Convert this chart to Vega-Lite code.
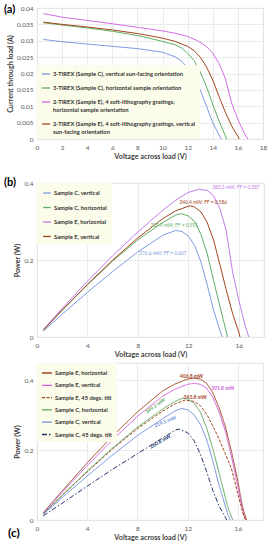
{
  "$schema": "https://vega.github.io/schema/vega-lite/v6.json",
  "padding": {"left": 3, "top": 3, "right": 2, "bottom": 2},
  "spacing": 3,
  "resolve": {"scale": {"color": "independent", "strokeDash": "independent", "x": "independent", "y": "independent"}, "legend": {"color": "independent", "strokeDash": "independent"}},
  "config": {
    "font": "Lato",
    "view": {"stroke": "#d9d9d9", "strokeWidth": 0.8},
    "axis": {"gridColor": "#e2e2e2", "gridWidth": 0.7, "domain": false, "ticks": false, "labelFontSize": 6.5, "labelColor": "#595959", "titleFontSize": 7.2, "titleFontWeight": "bold", "titleColor": "#404040", "labelFlush": false},
    "axisX": {"labelPadding": 5, "titlePadding": 2},
    "axisY": {"labelPadding": 4, "titlePadding": 2},
    "legend": {"symbolType": "stroke", "symbolStrokeWidth": 1.3, "labelFontWeight": "bold", "labelColor": "#333333", "fillColor": "#FCFCEA", "labelOffset": 2, "labelFontSize": 5.8}
  },
  "datasets": {
    "a": [
      {"s": "CV", "V": 0.5, "I": 0.0304}, {"s": "CV", "V": 2, "I": 0.0297}, {"s": "CV", "V": 4, "I": 0.029}, {"s": "CV", "V": 6, "I": 0.0283}, {"s": "CV", "V": 8, "I": 0.0276}, {"s": "CV", "V": 10, "I": 0.0265}, {"s": "CV", "V": 11, "I": 0.0251}, {"s": "CV", "V": 11.5, "I": 0.0238}, {"s": "CV", "V": 12, "I": 0.0218}, {"s": "CV", "V": 12.5, "I": 0.019}, {"s": "CV", "V": 13, "I": 0.015}, {"s": "CV", "V": 13.5, "I": 0.01}, {"s": "CV", "V": 14, "I": 0.005}, {"s": "CV", "V": 14.5, "I": 0.0012}, {"s": "CV", "V": 14.7, "I": 0},
      {"s": "CH", "V": 0.5, "I": 0.0355}, {"s": "CH", "V": 2, "I": 0.0348}, {"s": "CH", "V": 4, "I": 0.0339}, {"s": "CH", "V": 6, "I": 0.0329}, {"s": "CH", "V": 8, "I": 0.0316}, {"s": "CH", "V": 10, "I": 0.0298}, {"s": "CH", "V": 11, "I": 0.0288}, {"s": "CH", "V": 11.5, "I": 0.0278}, {"s": "CH", "V": 12, "I": 0.0262}, {"s": "CH", "V": 12.5, "I": 0.024}, {"s": "CH", "V": 13, "I": 0.0205}, {"s": "CH", "V": 13.5, "I": 0.016}, {"s": "CH", "V": 14, "I": 0.0105}, {"s": "CH", "V": 14.5, "I": 0.0055}, {"s": "CH", "V": 15, "I": 0.001}, {"s": "CH", "V": 15.1, "I": 0},
      {"s": "EH", "V": 0.5, "I": 0.0383}, {"s": "EH", "V": 2, "I": 0.0372}, {"s": "EH", "V": 4, "I": 0.0362}, {"s": "EH", "V": 6, "I": 0.0352}, {"s": "EH", "V": 8, "I": 0.0341}, {"s": "EH", "V": 10, "I": 0.033}, {"s": "EH", "V": 11, "I": 0.0323}, {"s": "EH", "V": 12, "I": 0.0313}, {"s": "EH", "V": 12.8, "I": 0.03}, {"s": "EH", "V": 13.5, "I": 0.0282}, {"s": "EH", "V": 14, "I": 0.0262}, {"s": "EH", "V": 14.5, "I": 0.023}, {"s": "EH", "V": 15, "I": 0.0185}, {"s": "EH", "V": 15.5, "I": 0.011}, {"s": "EH", "V": 16, "I": 0.006}, {"s": "EH", "V": 16.5, "I": 0.0018}, {"s": "EH", "V": 16.8, "I": 0},
      {"s": "EV", "V": 0.5, "I": 0.0357}, {"s": "EV", "V": 2, "I": 0.035}, {"s": "EV", "V": 4, "I": 0.0342}, {"s": "EV", "V": 6, "I": 0.0333}, {"s": "EV", "V": 8, "I": 0.0322}, {"s": "EV", "V": 10, "I": 0.0308}, {"s": "EV", "V": 11, "I": 0.0298}, {"s": "EV", "V": 12, "I": 0.0283}, {"s": "EV", "V": 12.5, "I": 0.027}, {"s": "EV", "V": 13, "I": 0.025}, {"s": "EV", "V": 13.5, "I": 0.022}, {"s": "EV", "V": 14, "I": 0.018}, {"s": "EV", "V": 14.5, "I": 0.013}, {"s": "EV", "V": 15, "I": 0.0082}, {"s": "EV", "V": 15.5, "I": 0.004}, {"s": "EV", "V": 16, "I": 0.0008}, {"s": "EV", "V": 16.1, "I": 0}
    ],
    "b": [
      {"s": "Sample C, vertical", "V": 0.5, "P": 0.0152}, {"s": "Sample C, vertical", "V": 2, "P": 0.0594}, {"s": "Sample C, vertical", "V": 4, "P": 0.116}, {"s": "Sample C, vertical", "V": 6, "P": 0.17}, {"s": "Sample C, vertical", "V": 8, "P": 0.221}, {"s": "Sample C, vertical", "V": 10, "P": 0.265}, {"s": "Sample C, vertical", "V": 11, "P": 0.2766}, {"s": "Sample C, vertical", "V": 11.5, "P": 0.274}, {"s": "Sample C, vertical", "V": 12, "P": 0.262}, {"s": "Sample C, vertical", "V": 12.5, "P": 0.2375}, {"s": "Sample C, vertical", "V": 13, "P": 0.195}, {"s": "Sample C, vertical", "V": 13.5, "P": 0.135}, {"s": "Sample C, vertical", "V": 14, "P": 0.07}, {"s": "Sample C, vertical", "V": 14.5, "P": 0.0174}, {"s": "Sample C, vertical", "V": 14.7, "P": 0},
      {"s": "Sample C, horizontal", "V": 0.5, "P": 0.0178}, {"s": "Sample C, horizontal", "V": 2, "P": 0.0696}, {"s": "Sample C, horizontal", "V": 4, "P": 0.1356}, {"s": "Sample C, horizontal", "V": 6, "P": 0.1974}, {"s": "Sample C, horizontal", "V": 8, "P": 0.2528}, {"s": "Sample C, horizontal", "V": 10, "P": 0.298}, {"s": "Sample C, horizontal", "V": 11, "P": 0.3168}, {"s": "Sample C, horizontal", "V": 11.3, "P": 0.3199}, {"s": "Sample C, horizontal", "V": 11.5, "P": 0.3197}, {"s": "Sample C, horizontal", "V": 12, "P": 0.3144}, {"s": "Sample C, horizontal", "V": 12.5, "P": 0.3}, {"s": "Sample C, horizontal", "V": 13, "P": 0.2665}, {"s": "Sample C, horizontal", "V": 13.5, "P": 0.216}, {"s": "Sample C, horizontal", "V": 14, "P": 0.147}, {"s": "Sample C, horizontal", "V": 14.5, "P": 0.08}, {"s": "Sample C, horizontal", "V": 15, "P": 0.015}, {"s": "Sample C, horizontal", "V": 15.1, "P": 0},
      {"s": "Sample E, horizontal", "V": 0.5, "P": 0.0192}, {"s": "Sample E, horizontal", "V": 2, "P": 0.0744}, {"s": "Sample E, horizontal", "V": 4, "P": 0.1448}, {"s": "Sample E, horizontal", "V": 6, "P": 0.2112}, {"s": "Sample E, horizontal", "V": 8, "P": 0.2728}, {"s": "Sample E, horizontal", "V": 10, "P": 0.33}, {"s": "Sample E, horizontal", "V": 11, "P": 0.3553}, {"s": "Sample E, horizontal", "V": 12, "P": 0.3756}, {"s": "Sample E, horizontal", "V": 12.8, "P": 0.3833}, {"s": "Sample E, horizontal", "V": 13.5, "P": 0.3807}, {"s": "Sample E, horizontal", "V": 14, "P": 0.3668}, {"s": "Sample E, horizontal", "V": 14.5, "P": 0.3335}, {"s": "Sample E, horizontal", "V": 15, "P": 0.2775}, {"s": "Sample E, horizontal", "V": 15.5, "P": 0.1705}, {"s": "Sample E, horizontal", "V": 16, "P": 0.096}, {"s": "Sample E, horizontal", "V": 16.5, "P": 0.03}, {"s": "Sample E, horizontal", "V": 16.8, "P": 0},
      {"s": "Sample E, vertical", "V": 0.5, "P": 0.0179}, {"s": "Sample E, vertical", "V": 2, "P": 0.07}, {"s": "Sample E, vertical", "V": 4, "P": 0.1368}, {"s": "Sample E, vertical", "V": 6, "P": 0.1998}, {"s": "Sample E, vertical", "V": 8, "P": 0.2576}, {"s": "Sample E, vertical", "V": 10, "P": 0.308}, {"s": "Sample E, vertical", "V": 11, "P": 0.3278}, {"s": "Sample E, vertical", "V": 12, "P": 0.3396}, {"s": "Sample E, vertical", "V": 12.2, "P": 0.3404}, {"s": "Sample E, vertical", "V": 12.5, "P": 0.3375}, {"s": "Sample E, vertical", "V": 13, "P": 0.325}, {"s": "Sample E, vertical", "V": 13.5, "P": 0.297}, {"s": "Sample E, vertical", "V": 14, "P": 0.252}, {"s": "Sample E, vertical", "V": 14.5, "P": 0.1885}, {"s": "Sample E, vertical", "V": 15, "P": 0.123}, {"s": "Sample E, vertical", "V": 15.5, "P": 0.062}, {"s": "Sample E, vertical", "V": 16, "P": 0.0128}, {"s": "Sample E, vertical", "V": 16.1, "P": 0}
    ],
    "bl": [
      {"s": "Sample E, horizontal", "V": 13.9, "P": 0.388, "t": "383.3 mW; FF = 0.587"},
      {"s": "Sample E, vertical", "V": 11.3, "P": 0.347, "t": "340.4 mW; FF = 0.586"},
      {"s": "Sample C, horizontal", "V": 9.0, "P": 0.288, "t": "319.9 mW; FF = 0.591"},
      {"s": "Sample C, vertical", "V": 8.1, "P": 0.216, "t": "276.6 mW; FF = 0.607"}
    ],
    "c": [
      {"s": "Sample E, horizontal", "V": 0.5, "P": 0.021}, {"s": "Sample E, horizontal", "V": 2, "P": 0.083}, {"s": "Sample E, horizontal", "V": 4, "P": 0.164}, {"s": "Sample E, horizontal", "V": 6, "P": 0.24}, {"s": "Sample E, horizontal", "V": 8, "P": 0.31}, {"s": "Sample E, horizontal", "V": 10, "P": 0.37}, {"s": "Sample E, horizontal", "V": 11, "P": 0.39}, {"s": "Sample E, horizontal", "V": 12, "P": 0.404}, {"s": "Sample E, horizontal", "V": 12.5, "P": 0.4068}, {"s": "Sample E, horizontal", "V": 13, "P": 0.404}, {"s": "Sample E, horizontal", "V": 13.5, "P": 0.392}, {"s": "Sample E, horizontal", "V": 14, "P": 0.365}, {"s": "Sample E, horizontal", "V": 14.5, "P": 0.322}, {"s": "Sample E, horizontal", "V": 15, "P": 0.268}, {"s": "Sample E, horizontal", "V": 15.5, "P": 0.195}, {"s": "Sample E, horizontal", "V": 16, "P": 0.11}, {"s": "Sample E, horizontal", "V": 16.3, "P": 0.05}, {"s": "Sample E, horizontal", "V": 16.5, "P": 0.02}, {"s": "Sample E, horizontal", "V": 16.7, "P": 0},
      {"s": "Sample E, vertical", "V": 0.5, "P": 0.02}, {"s": "Sample E, vertical", "V": 2, "P": 0.079}, {"s": "Sample E, vertical", "V": 4, "P": 0.156}, {"s": "Sample E, vertical", "V": 6, "P": 0.229}, {"s": "Sample E, vertical", "V": 8, "P": 0.297}, {"s": "Sample E, vertical", "V": 10, "P": 0.355}, {"s": "Sample E, vertical", "V": 11, "P": 0.375}, {"s": "Sample E, vertical", "V": 12, "P": 0.389}, {"s": "Sample E, vertical", "V": 12.5, "P": 0.3918}, {"s": "Sample E, vertical", "V": 13, "P": 0.389}, {"s": "Sample E, vertical", "V": 13.5, "P": 0.378}, {"s": "Sample E, vertical", "V": 14, "P": 0.352}, {"s": "Sample E, vertical", "V": 14.5, "P": 0.31}, {"s": "Sample E, vertical", "V": 15, "P": 0.255}, {"s": "Sample E, vertical", "V": 15.5, "P": 0.18}, {"s": "Sample E, vertical", "V": 16, "P": 0.095}, {"s": "Sample E, vertical", "V": 16.3, "P": 0.04}, {"s": "Sample E, vertical", "V": 16.5, "P": 0.012}, {"s": "Sample E, vertical", "V": 16.6, "P": 0},
      {"s": "Sample E, 45 degs. tilt", "V": 0.5, "P": 0.018}, {"s": "Sample E, 45 degs. tilt", "V": 2, "P": 0.07}, {"s": "Sample E, 45 degs. tilt", "V": 4, "P": 0.138}, {"s": "Sample E, 45 degs. tilt", "V": 6, "P": 0.203}, {"s": "Sample E, 45 degs. tilt", "V": 8, "P": 0.262}, {"s": "Sample E, 45 degs. tilt", "V": 10, "P": 0.312}, {"s": "Sample E, 45 degs. tilt", "V": 11, "P": 0.333}, {"s": "Sample E, 45 degs. tilt", "V": 11.8, "P": 0.3438}, {"s": "Sample E, 45 degs. tilt", "V": 12.5, "P": 0.34}, {"s": "Sample E, 45 degs. tilt", "V": 13, "P": 0.328}, {"s": "Sample E, 45 degs. tilt", "V": 13.5, "P": 0.304}, {"s": "Sample E, 45 degs. tilt", "V": 14, "P": 0.27}, {"s": "Sample E, 45 degs. tilt", "V": 14.5, "P": 0.232}, {"s": "Sample E, 45 degs. tilt", "V": 15, "P": 0.19}, {"s": "Sample E, 45 degs. tilt", "V": 15.5, "P": 0.146}, {"s": "Sample E, 45 degs. tilt", "V": 16, "P": 0.074}, {"s": "Sample E, 45 degs. tilt", "V": 16.4, "P": 0.02}, {"s": "Sample E, 45 degs. tilt", "V": 16.6, "P": 0},
      {"s": "Sample C, horizontal", "V": 0.5, "P": 0.018}, {"s": "Sample C, horizontal", "V": 2, "P": 0.071}, {"s": "Sample C, horizontal", "V": 4, "P": 0.14}, {"s": "Sample C, horizontal", "V": 6, "P": 0.206}, {"s": "Sample C, horizontal", "V": 8, "P": 0.266}, {"s": "Sample C, horizontal", "V": 10, "P": 0.318}, {"s": "Sample C, horizontal", "V": 11, "P": 0.34}, {"s": "Sample C, horizontal", "V": 11.6, "P": 0.3493}, {"s": "Sample C, horizontal", "V": 12, "P": 0.347}, {"s": "Sample C, horizontal", "V": 12.5, "P": 0.335}, {"s": "Sample C, horizontal", "V": 13, "P": 0.31}, {"s": "Sample C, horizontal", "V": 13.5, "P": 0.265}, {"s": "Sample C, horizontal", "V": 14, "P": 0.205}, {"s": "Sample C, horizontal", "V": 14.5, "P": 0.135}, {"s": "Sample C, horizontal", "V": 15, "P": 0.065}, {"s": "Sample C, horizontal", "V": 15.3, "P": 0.025}, {"s": "Sample C, horizontal", "V": 15.6, "P": 0},
      {"s": "Sample C, vertical", "V": 0.5, "P": 0.016}, {"s": "Sample C, vertical", "V": 2, "P": 0.064}, {"s": "Sample C, vertical", "V": 4, "P": 0.126}, {"s": "Sample C, vertical", "V": 6, "P": 0.186}, {"s": "Sample C, vertical", "V": 8, "P": 0.242}, {"s": "Sample C, vertical", "V": 10, "P": 0.29}, {"s": "Sample C, vertical", "V": 11, "P": 0.313}, {"s": "Sample C, vertical", "V": 11.5, "P": 0.3195}, {"s": "Sample C, vertical", "V": 12, "P": 0.316}, {"s": "Sample C, vertical", "V": 12.5, "P": 0.302}, {"s": "Sample C, vertical", "V": 13, "P": 0.275}, {"s": "Sample C, vertical", "V": 13.5, "P": 0.232}, {"s": "Sample C, vertical", "V": 14, "P": 0.17}, {"s": "Sample C, vertical", "V": 14.5, "P": 0.1}, {"s": "Sample C, vertical", "V": 15, "P": 0.04}, {"s": "Sample C, vertical", "V": 15.2, "P": 0.015}, {"s": "Sample C, vertical", "V": 15.4, "P": 0},
      {"s": "Sample C, 45 degs. tilt", "V": 0.5, "P": 0.012}, {"s": "Sample C, 45 degs. tilt", "V": 2, "P": 0.048}, {"s": "Sample C, 45 degs. tilt", "V": 4, "P": 0.097}, {"s": "Sample C, 45 degs. tilt", "V": 6, "P": 0.145}, {"s": "Sample C, 45 degs. tilt", "V": 8, "P": 0.19}, {"s": "Sample C, 45 degs. tilt", "V": 10, "P": 0.235}, {"s": "Sample C, 45 degs. tilt", "V": 11, "P": 0.257}, {"s": "Sample C, 45 degs. tilt", "V": 11.3, "P": 0.2608}, {"s": "Sample C, 45 degs. tilt", "V": 12, "P": 0.25}, {"s": "Sample C, 45 degs. tilt", "V": 12.5, "P": 0.228}, {"s": "Sample C, 45 degs. tilt", "V": 13, "P": 0.19}, {"s": "Sample C, 45 degs. tilt", "V": 13.5, "P": 0.14}, {"s": "Sample C, 45 degs. tilt", "V": 14, "P": 0.085}, {"s": "Sample C, 45 degs. tilt", "V": 14.5, "P": 0.04}, {"s": "Sample C, 45 degs. tilt", "V": 15, "P": 0.008}, {"s": "Sample C, 45 degs. tilt", "V": 15.1, "P": 0}
    ],
    "cl": [
      {"s": "Sample E, horizontal", "V": 12.3, "P": 0.414, "t": "406.8 mW", "ang": 0},
      {"s": "Sample E, vertical", "V": 14.8, "P": 0.378, "t": "391.8 mW", "ang": 0},
      {"s": "Sample E, 45 degs. tilt", "V": 12.6, "P": 0.352, "t": "343.8 mW", "ang": 0},
      {"s": "Sample C, horizontal", "V": 9.4, "P": 0.328, "t": "349.3 mW", "ang": -35},
      {"s": "Sample C, vertical", "V": 10.2, "P": 0.283, "t": "319.5 mW", "ang": -22},
      {"s": "Sample C, 45 degs. tilt", "V": 9.8, "P": 0.226, "t": "260.8 mW", "ang": -30}
    ]
  },
  "vconcat": [
    {
      "width": 226, "height": 131,
      "title": {"text": "(a)", "orient": "top", "anchor": "start", "frame": "group", "dx": -33, "offset": -10, "fontSize": 11, "fontWeight": "bold", "color": "#000000"},
      "data": {"name": "a"},
      "mark": {"type": "line", "strokeWidth": 1},
      "encoding": {
        "x": {"field": "V", "type": "quantitative", "scale": {"domain": [0, 18], "nice": false}, "axis": {"values": [0, 2, 4, 6, 8, 10, 12, 14, 16, 18], "title": ["Voltage across load (V)", " "], "titleLineHeight": 12}},
        "y": {"field": "I", "type": "quantitative", "scale": {"domain": [0, 0.04], "nice": false}, "axis": {"values": [0, 0.005, 0.01, 0.015, 0.02, 0.025, 0.03, 0.035, 0.04], "format": "~g", "title": "Current through load (A)"}},
        "color": {"field": "s", "type": "nominal", "scale": {"domain": ["CV", "CH", "EH", "EV"], "range": ["#7E9CE2", "#62AE62", "#D46BE6", "#A2461E"]},
          "legend": {"title": null, "orient": "bottom-left", "offset": 0, "padding": 4, "rowPadding": 6, "symbolSize": 64, "labelLimit": 220,
            "labelExpr": "datum.value == 'CV' ? '3-TIREX (Sample C), vertical sun-facing orientation' : datum.value == 'CH' ? '3-TIREX (Sample C), horizontal sample orientation' : datum.value == 'EH' ? ['2-TIREX (Sample E), 4 soft-lithography gratings,', 'horizontal sample orientation'] : ['2-TIREX (Sample E), 4 soft-lithography gratings, vertical', 'sun-facing orientation']"}}
      }
    },
    {
      "width": 227, "height": 154,
      "title": {"text": "(b)", "orient": "top", "anchor": "start", "frame": "group", "dx": -33, "offset": -8, "fontSize": 11, "fontWeight": "bold", "color": "#000000"},
      "layer": [
        {
          "data": {"name": "b"},
          "mark": {"type": "line", "strokeWidth": 1},
          "encoding": {
            "x": {"field": "V", "type": "quantitative", "scale": {"domain": [0, 18], "nice": false}, "axis": {"values": [0, 2, 4, 6, 8, 10, 12, 14, 16, 18], "title": "Voltage across load (V)"}},
            "y": {"field": "P", "type": "quantitative", "scale": {"domain": [0, 0.4], "nice": false}, "axis": {"values": [0, 0.05, 0.1, 0.15, 0.2, 0.25, 0.3, 0.35, 0.4], "format": "~g", "title": "Power (W)"}},
            "color": {"field": "s", "type": "nominal", "scale": {"domain": ["Sample C, vertical", "Sample C, horizontal", "Sample E, horizontal", "Sample E, vertical"], "range": ["#7E9CE2", "#62AE62", "#C47BEE", "#A2461E"]},
              "legend": {"title": null, "orient": "top-left", "offset": 0, "padding": 5, "rowPadding": 6.5, "symbolSize": 60}}
          }
        },
        {
          "data": {"name": "bl"},
          "mark": {"type": "text", "align": "left", "baseline": "middle", "fontSize": 4.8},
          "encoding": {
            "x": {"field": "V", "type": "quantitative"},
            "y": {"field": "P", "type": "quantitative"},
            "text": {"field": "t"},
            "color": {"field": "s", "type": "nominal", "legend": null}
          }
        }
      ]
    },
    {
      "width": 226, "height": 157,
      "title": {"text": "(c)", "orient": "bottom", "anchor": "start", "frame": "group", "dx": -29, "offset": -13, "fontSize": 12, "fontWeight": "bold", "color": "#000000"},
      "layer": [
        {
          "data": {"name": "c"},
          "mark": {"type": "line", "strokeWidth": 1},
          "encoding": {
            "x": {"field": "V", "type": "quantitative", "scale": {"domain": [0, 18], "nice": false}, "axis": {"values": [0, 2, 4, 6, 8, 10, 12, 14, 16, 18], "title": "Voltage across load (V)"}},
            "y": {"field": "P", "type": "quantitative", "scale": {"domain": [0, 0.45], "nice": false}, "axis": {"values": [0, 0.05, 0.1, 0.15, 0.2, 0.25, 0.3, 0.35, 0.4, 0.45], "format": "~g", "title": "Power (W)"}},
            "color": {"field": "s", "type": "nominal", "scale": {"domain": ["Sample E, horizontal", "Sample E, vertical", "Sample E, 45 degs. tilt", "Sample C, horizontal", "Sample C, vertical", "Sample C, 45 degs. tilt"], "range": ["#A2461E", "#CF62DE", "#A2461E", "#5EA85E", "#6F8FE0", "#22346E"]},
              "legend": {"title": null, "orient": "top-left", "offset": 0, "padding": 4, "rowPadding": 3.3, "symbolSize": 100}},
            "strokeDash": {"field": "s", "type": "nominal", "scale": {"domain": ["Sample E, horizontal", "Sample E, vertical", "Sample E, 45 degs. tilt", "Sample C, horizontal", "Sample C, vertical", "Sample C, 45 degs. tilt"], "range": [[1, 0], [1, 0], [3, 1.5], [1, 0], [1, 0], [5, 2, 1.5, 2]]},
              "legend": {"title": null, "orient": "top-left", "offset": 0, "padding": 4, "rowPadding": 3.3, "symbolSize": 100}}
          }
        },
        {
          "data": {"name": "cl"},
          "mark": {"type": "text", "align": "center", "baseline": "middle", "fontSize": 5, "fontWeight": "bold"},
          "encoding": {
            "x": {"field": "V", "type": "quantitative"},
            "y": {"field": "P", "type": "quantitative"},
            "text": {"field": "t"},
            "angle": {"field": "ang", "type": "quantitative", "scale": null},
            "color": {"field": "s", "type": "nominal", "legend": null}
          }
        }
      ]
    }
  ]
}
